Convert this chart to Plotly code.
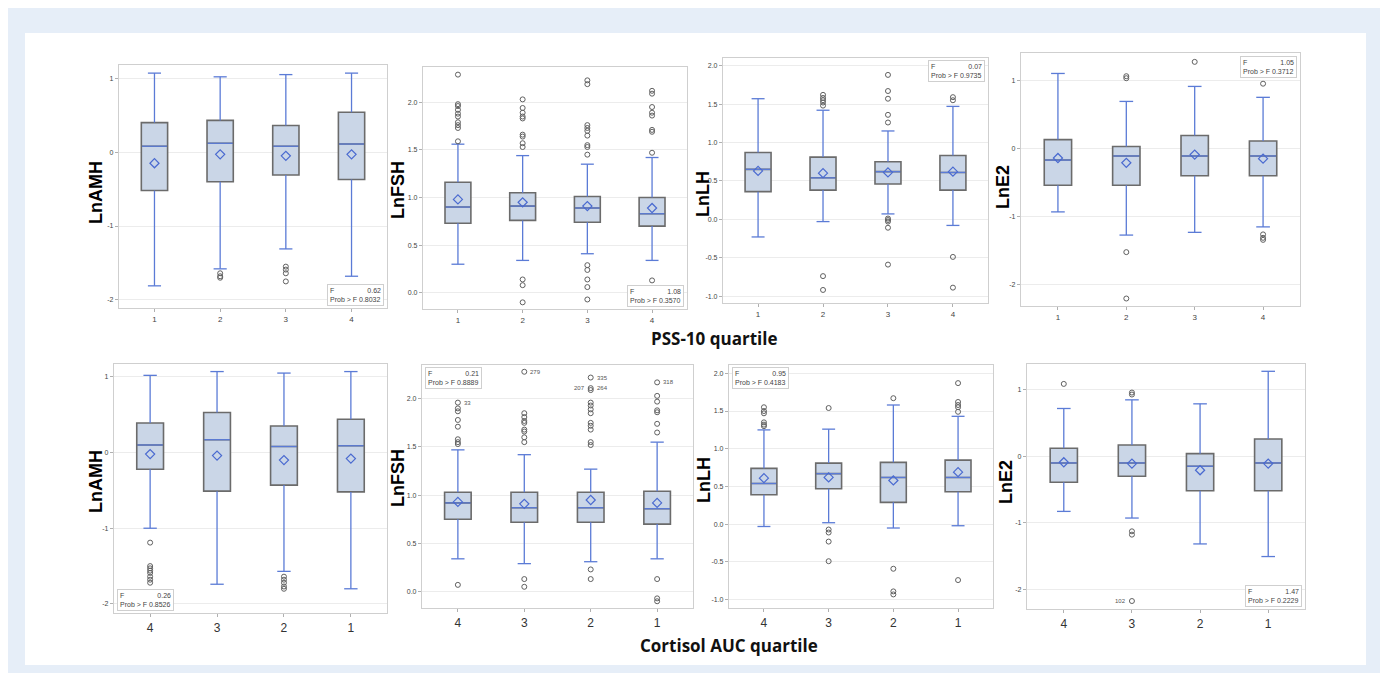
import plotly.graph_objects as go

# ---------------- data ----------------
PSS_LABELS = ["1", "2", "3", "4"]
CORT_LABELS = ["4", "3", "2", "1"]

# Panel 1: LnAMH by PSS-10 quartile
AMH_PSS_HI = [1.07, 1.02, 1.05, 1.07]
AMH_PSS_Q3 = [0.40, 0.43, 0.36, 0.54]
AMH_PSS_MED = [0.08, 0.12, 0.08, 0.11]
AMH_PSS_MEAN = [-0.15, -0.03, -0.05, -0.03]
AMH_PSS_Q1 = [-0.52, -0.40, -0.31, -0.37]
AMH_PSS_LO = [-1.81, -1.58, -1.31, -1.68]
AMH_PSS_OUT = [[], [-1.64, -1.68, -1.70], [-1.55, -1.59, -1.64, -1.75], []]

# Panel 2: LnFSH by PSS-10 quartile
FSH_PSS_HI = [1.56, 1.44, 1.35, 1.42]
FSH_PSS_Q3 = [1.16, 1.05, 1.01, 1.00]
FSH_PSS_MED = [0.90, 0.91, 0.89, 0.83]
FSH_PSS_MEAN = [0.98, 0.95, 0.91, 0.89]
FSH_PSS_Q1 = [0.73, 0.76, 0.74, 0.70]
FSH_PSS_LO = [0.30, 0.34, 0.41, 0.34]
FSH_PSS_OUT = [[2.29, 1.98, 1.96, 1.92, 1.88, 1.85, 1.79, 1.76, 1.73, 1.59],
               [2.03, 1.94, 1.89, 1.85, 1.83, 1.66, 1.64, 1.57, 1.53, 0.14, 0.08, -0.10],
               [2.23, 2.19, 1.76, 1.73, 1.70, 1.65, 1.55, 1.53, 1.45, 0.29, 0.24, 0.14, 0.06, -0.07],
               [2.12, 2.09, 1.95, 1.89, 1.86, 1.71, 1.69, 1.47, 0.13]]

# Panel 3: LnLH by PSS-10 quartile
LH_PSS_HI = [1.57, 1.42, 1.15, 1.47]
LH_PSS_Q3 = [0.87, 0.81, 0.75, 0.83]
LH_PSS_MED = [0.65, 0.54, 0.62, 0.61]
LH_PSS_MEAN = [0.63, 0.60, 0.61, 0.62]
LH_PSS_Q1 = [0.36, 0.38, 0.46, 0.38]
LH_PSS_LO = [-0.23, -0.03, 0.07, -0.08]
LH_PSS_OUT = [[], [1.62, 1.58, 1.55, 1.52, 1.48, -0.74, -0.92],
              [1.88, 1.67, 1.57, 1.36, 1.26, 0.01, -0.01, -0.03, -0.11, -0.59],
              [1.59, 1.55, -0.49, -0.89]]

# Panel 4: LnE2 by PSS-10 quartile
E2_PSS_HI = [1.10, 0.69, 0.91, 0.75]
E2_PSS_Q3 = [0.13, 0.03, 0.19, 0.11]
E2_PSS_MED = [-0.17, -0.11, -0.11, -0.11]
E2_PSS_MEAN = [-0.14, -0.21, -0.09, -0.15]
E2_PSS_Q1 = [-0.54, -0.54, -0.40, -0.40]
E2_PSS_LO = [-0.93, -1.27, -1.23, -1.15]
E2_PSS_OUT = [[], [1.06, 1.03, -1.52, -2.20], [1.27], [0.95, -1.26, -1.31, -1.34]]

# Panel 5: LnAMH by cortisol AUC quartile
AMH_CORT_HI = [1.02, 1.07, 1.05, 1.07]
AMH_CORT_Q3 = [0.39, 0.53, 0.35, 0.44]
AMH_CORT_MED = [0.10, 0.17, 0.08, 0.09]
AMH_CORT_MEAN = [-0.02, -0.04, -0.10, -0.08]
AMH_CORT_Q1 = [-0.22, -0.51, -0.43, -0.52]
AMH_CORT_LO = [-1.00, -1.74, -1.57, -1.80]
AMH_CORT_OUT = [[-1.19, -1.50, -1.53, -1.56, -1.59, -1.64, -1.68, -1.72], [],
                [-1.64, -1.68, -1.72, -1.77, -1.80], []]

# Panel 6: LnFSH by cortisol AUC quartile
FSH_CORT_HI = [1.47, 1.42, 1.27, 1.55]
FSH_CORT_Q3 = [1.03, 1.03, 1.03, 1.04]
FSH_CORT_MED = [0.92, 0.87, 0.87, 0.86]
FSH_CORT_MEAN = [0.93, 0.91, 0.95, 0.92]
FSH_CORT_Q1 = [0.75, 0.72, 0.72, 0.70]
FSH_CORT_LO = [0.34, 0.29, 0.31, 0.34]
FSH_CORT_OUT = [[1.96, 1.90, 1.87, 1.78, 1.71, 1.58, 1.55, 1.53, 0.07],
                [2.28, 1.85, 1.81, 1.77, 1.75, 1.68, 1.66, 1.60, 1.55, 0.13, 0.05],
                [2.22, 2.11, 2.09, 1.96, 1.93, 1.89, 1.85, 1.75, 1.72, 1.68, 1.55, 1.52, 0.23, 0.13],
                [2.17, 2.03, 1.97, 1.88, 1.86, 1.74, 1.65, 0.13, -0.07, -0.10]]
FSH_CORT_LABELS = [(0, 1.96, "33", "r"), (1, 2.28, "279", "r"), (2, 2.22, "335", "r"),
                   (2, 2.11, "207", "l"), (2, 2.11, "264", "r"), (3, 2.17, "318", "r")]

# Panel 7: LnLH by cortisol AUC quartile
LH_CORT_HI = [1.25, 1.26, 1.58, 1.43]
LH_CORT_Q3 = [0.74, 0.81, 0.82, 0.85]
LH_CORT_MED = [0.54, 0.67, 0.62, 0.62]
LH_CORT_MEAN = [0.61, 0.62, 0.58, 0.69]
LH_CORT_Q1 = [0.39, 0.47, 0.29, 0.43]
LH_CORT_LO = [-0.03, 0.02, -0.05, -0.02]
LH_CORT_OUT = [[1.55, 1.50, 1.47, 1.35, 1.32, 1.30], [1.54, -0.07, -0.11, -0.23, -0.49],
               [1.67, -0.59, -0.89, -0.93], [1.87, 1.62, 1.58, 1.55, 1.49, -0.74]]

# Panel 8: LnE2 by cortisol AUC quartile
E2_CORT_HI = [0.72, 0.85, 0.79, 1.28]
E2_CORT_Q3 = [0.12, 0.17, 0.04, 0.26]
E2_CORT_MED = [-0.10, -0.10, -0.15, -0.10]
E2_CORT_MEAN = [-0.09, -0.11, -0.21, -0.11]
E2_CORT_Q1 = [-0.39, -0.30, -0.52, -0.52]
E2_CORT_LO = [-0.83, -0.93, -1.32, -1.51]
E2_CORT_OUT = [[1.09], [0.96, 0.93, -1.13, -1.18, -2.18], [], []]
E2_CORT_LABELS = [(1, -2.18, "102", "l")]

# F tests
F_VALUES = ["0.62", "1.08", "0.07", "1.05", "0.26", "0.21", "0.95", "1.47"]
P_VALUES = ["0.8032", "0.3570", "0.9735", "0.3712", "0.8526", "0.8889", "0.4183", "0.2229"]

Y_TITLES = ["LnAMH", "LnFSH", "LnLH", "LnE2", "LnAMH", "LnFSH", "LnLH", "LnE2"]
X_TITLES = ["PSS-10 quartile", "Cortisol AUC quartile"]

# ---------------- layout geometry (pixels) ----------------
OFF = 8
W, H = 1388 - 2 * OFF, 681 - 2 * OFF


def px(x):
    return (x - OFF) / W


def py(y):
    return 1 - (y - OFF) / H


panels = [
    dict(d=(119, 387, 65, 308), yr=(-2.11, 1.18), yt=[-2, -1, 0, 1], fmt="d", lab=PSS_LABELS,
         data=(AMH_PSS_Q1, AMH_PSS_MED, AMH_PSS_Q3, AMH_PSS_LO, AMH_PSS_HI, AMH_PSS_MEAN, AMH_PSS_OUT),
         stat="br", ylab=(96, 193), labels=[]),
    dict(d=(423, 687, 67, 309), yr=(-0.17, 2.37), yt=[0, 0.5, 1, 1.5, 2], fmt=".1f", lab=PSS_LABELS,
         data=(FSH_PSS_Q1, FSH_PSS_MED, FSH_PSS_Q3, FSH_PSS_LO, FSH_PSS_HI, FSH_PSS_MEAN, FSH_PSS_OUT),
         stat="br", ylab=(398, 190), labels=[]),
    dict(d=(723, 988, 58, 303), yr=(-1.09, 2.10), yt=[-1, -0.5, 0, 0.5, 1, 1.5, 2], fmt=".1f", lab=PSS_LABELS,
         data=(LH_PSS_Q1, LH_PSS_MED, LH_PSS_Q3, LH_PSS_LO, LH_PSS_HI, LH_PSS_MEAN, LH_PSS_OUT),
         stat="tr", ylab=(703, 194), labels=[]),
    dict(d=(1021, 1300, 53, 306), yr=(-2.31, 1.40), yt=[-2, -1, 0, 1], fmt="d", lab=PSS_LABELS,
         data=(E2_PSS_Q1, E2_PSS_MED, E2_PSS_Q3, E2_PSS_LO, E2_PSS_HI, E2_PSS_MEAN, E2_PSS_OUT),
         stat="tr", ylab=(1003, 187), labels=[]),
    dict(d=(114, 387, 364, 613), yr=(-2.12, 1.17), yt=[-2, -1, 0, 1], fmt="d", lab=CORT_LABELS,
         data=(AMH_CORT_Q1, AMH_CORT_MED, AMH_CORT_Q3, AMH_CORT_LO, AMH_CORT_HI, AMH_CORT_MEAN, AMH_CORT_OUT),
         stat="bl", ylab=(96, 482), labels=[]),
    dict(d=(422, 693, 365, 608), yr=(-0.17, 2.35), yt=[0, 0.5, 1, 1.5, 2], fmt=".1f", lab=CORT_LABELS,
         data=(FSH_CORT_Q1, FSH_CORT_MED, FSH_CORT_Q3, FSH_CORT_LO, FSH_CORT_HI, FSH_CORT_MEAN, FSH_CORT_OUT),
         stat="tl", ylab=(398, 478), labels=FSH_CORT_LABELS),
    dict(d=(729, 993, 365, 608), yr=(-1.11, 2.11), yt=[-1, -0.5, 0, 0.5, 1, 1.5, 2], fmt=".1f", lab=CORT_LABELS,
         data=(LH_CORT_Q1, LH_CORT_MED, LH_CORT_Q3, LH_CORT_LO, LH_CORT_HI, LH_CORT_MEAN, LH_CORT_OUT),
         stat="tl", ylab=(704, 480), labels=[]),
    dict(d=(1027, 1305, 364, 609), yr=(-2.30, 1.39), yt=[-2, -1, 0, 1], fmt="d", lab=CORT_LABELS,
         data=(E2_CORT_Q1, E2_CORT_MED, E2_CORT_Q3, E2_CORT_LO, E2_CORT_HI, E2_CORT_MEAN, E2_CORT_OUT),
         stat="br", ylab=(1006, 482), labels=E2_CORT_LABELS),
]

BOX_W = 0.4
CAP_W = 0.2
BLUE = "#5b7bd6"
MEAN_BLUE = "#4a6ad0"
FILL = "#cad6e7"
EDGE = "#6b6b6b"
GRAY_PT = "#606060"
FONT = "Liberation Sans, Arial, sans-serif"

fig = go.Figure()
layout = {}
annotations = []

for i, p in enumerate(panels, start=1):
    xa = "x" if i == 1 else f"x{i}"
    ya = "y" if i == 1 else f"y{i}"
    q1, med, q3, lo, hi, mean, out = p["data"]
    xs = [1, 2, 3, 4]

    # box body (no whiskers)
    fig.add_trace(go.Box(
        x=xs, q1=q1, median=med, q3=q3, lowerfence=q1, upperfence=q3,
        width=BOX_W, fillcolor=FILL, line=dict(color=EDGE, width=1.6),
        boxpoints=False, xaxis=xa, yaxis=ya, showlegend=False, hoverinfo="skip",
    ))

    # whiskers, caps, medians (blue)
    wx, wy = [], []
    for k, x in enumerate(xs):
        wx += [x, x, None, x, x, None]
        wy += [q3[k], hi[k], None, q1[k], lo[k], None]
        wx += [x - CAP_W / 2, x + CAP_W / 2, None, x - CAP_W / 2, x + CAP_W / 2, None]
        wy += [hi[k], hi[k], None, lo[k], lo[k], None]
        wx += [x - BOX_W / 2 + 0.01, x + BOX_W / 2 - 0.01, None]
        wy += [med[k], med[k], None]
    fig.add_trace(go.Scatter(x=wx, y=wy, mode="lines", line=dict(color=BLUE, width=1.3),
                             xaxis=xa, yaxis=ya, showlegend=False, hoverinfo="skip"))

    # outliers
    ox, oy = [], []
    for k, x in enumerate(xs):
        ox += [x] * len(out[k])
        oy += out[k]
    fig.add_trace(go.Scatter(x=ox, y=oy, mode="markers",
                             marker=dict(symbol="circle-open", size=5, color=GRAY_PT, line=dict(width=1)),
                             xaxis=xa, yaxis=ya, showlegend=False, hoverinfo="skip"))

    # means
    fig.add_trace(go.Scatter(x=xs, y=mean, mode="markers",
                             marker=dict(symbol="diamond-open", size=7, color=MEAN_BLUE, line=dict(width=1.2)),
                             xaxis=xa, yaxis=ya, showlegend=False, hoverinfo="skip"))

    x0, x1, y0, y1 = p["d"]
    bottom = i > 4
    layout["xaxis" if i == 1 else f"xaxis{i}"] = dict(
        domain=[px(x0), px(x1)], range=[0.46, 4.54], tickvals=xs, ticktext=p["lab"],
        showline=True, mirror=True, linecolor="#cfcfcf", linewidth=1.2,
        ticks="outside", ticklen=3, tickcolor="#b0b0b0",
        tickfont=dict(size=12 if bottom else 8, color="#333" if bottom else "#444", family=FONT),
        showgrid=False, zeroline=False, anchor=ya, fixedrange=True,
    )
    tt = [f"{v:.1f}" if p["fmt"] == ".1f" else f"{int(v)}" for v in p["yt"]]
    layout["yaxis" if i == 1 else f"yaxis{i}"] = dict(
        domain=[py(y1), py(y0)], range=list(p["yr"]), tickvals=p["yt"], ticktext=tt,
        showline=True, mirror=True, linecolor="#cfcfcf", linewidth=1.2,
        ticks="outside", ticklen=3, tickcolor="#b0b0b0",
        tickfont=dict(size=7, color="#444", family=FONT),
        showgrid=True, gridcolor="#ececec", gridwidth=1, zeroline=False, anchor=xa, fixedrange=True,
    )

    # y title
    lx, ly = p["ylab"]
    annotations.append(dict(text=f"<b>{Y_TITLES[i-1]}</b>", x=px(lx), y=py(ly), xref="paper", yref="paper",
                            showarrow=False, textangle=-90, xanchor="center", yanchor="middle",
                            font=dict(size=18, color="#000", family=FONT)))

    # F-test inset box
    pos = p["stat"]
    ax = 0.99 if pos[1] == "r" else 0.01
    ay = 0.99 if pos[0] == "t" else 0.01
    stat_text = "F" + "&nbsp;" * 17 + F_VALUES[i-1] + "<br>Prob > F " + P_VALUES[i-1]
    annotations.append(dict(text=stat_text, xref=f"{xa} domain", yref=f"{ya} domain", x=ax, y=ay,
                            xanchor="right" if pos[1] == "r" else "left",
                            yanchor="top" if pos[0] == "t" else "bottom",
                            showarrow=False, align="left", bgcolor="white", bordercolor="#cfcfcf",
                            borderwidth=1, borderpad=2, font=dict(size=7, color="#444", family=FONT)))

    # outlier id labels
    for (k, v, txt, side) in p["labels"]:
        annotations.append(dict(text=txt, x=xs[k], y=v, xref=xa, yref=ya, showarrow=False,
                                xanchor="left" if side == "r" else "right", yanchor="middle",
                                xshift=4 if side == "r" else -4,
                                font=dict(size=6, color="#555", family=FONT)))

# x titles for each row
annotations.append(dict(text=f"<b>{X_TITLES[0]}</b>", x=px(714), y=py(338), xref="paper", yref="paper",
                        showarrow=False, xanchor="center", yanchor="middle",
                        font=dict(size=17, color="#111", family="Open Sans, sans-serif")))
annotations.append(dict(text=f"<b>{X_TITLES[1]}</b>", x=px(729), y=py(645), xref="paper", yref="paper",
                        showarrow=False, xanchor="center", yanchor="middle",
                        font=dict(size=17, color="#111", family="Open Sans, sans-serif")))

shapes = [dict(type="rect", xref="paper", yref="paper", x0=px(25), x1=px(1366), y0=py(665), y1=py(33),
               fillcolor="white", line=dict(width=0), layer="below")]

fig.update_layout(
    width=W, height=H, margin=dict(l=0, r=0, t=0, b=0),
    paper_bgcolor="#e6eef8", plot_bgcolor="white",
    annotations=annotations, shapes=shapes, showlegend=False,
    font=dict(family=FONT),
    **layout,
)

fig.write_html("out.html")
